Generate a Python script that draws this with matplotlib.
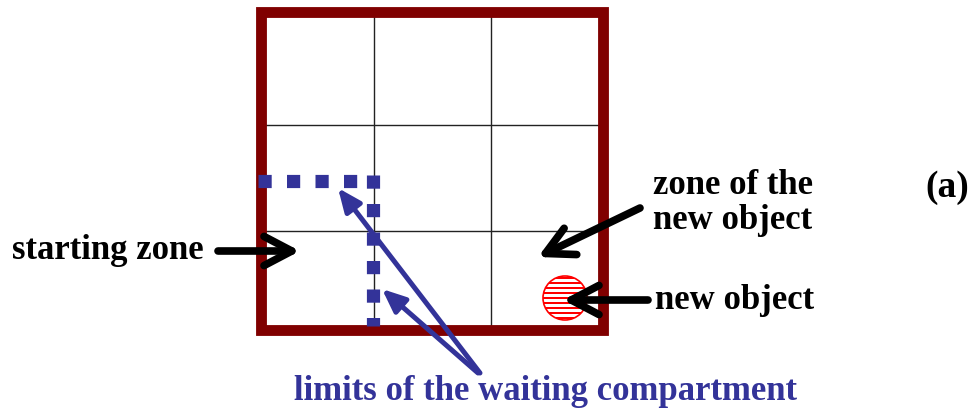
import matplotlib.pyplot as plt
from matplotlib.patches import Ellipse, Rectangle

# diagram data (pixel-like units, y grows downward)
box = [261, 12, 603, 330]          # left, top, right, bottom
grid_x = [374, 491]
grid_y = [125, 231]
wait_h = [258, 358, 181]           # x0, x1, y
wait_v = [372.5, 175, 326]         # x, y0, y1

labels = ["starting zone", "zone of the\nnew object", "new object", "(a)",
          "limits of the waiting compartment"]
label_xy = [(108, 250), (733, 203), (735, 300), (947, 187), (545, 391)]

black_arrows = [((218, 251), (300, 251)), ((640, 208), (538, 257)), ((648, 300), (563, 300))]
blue_arrows = [((480, 373), (338, 188)), ((478, 373), (382, 289))]

obj_center = (565, 298)
obj_size = (44, 44)

dark_red = "#800000"
blue = "#333399"

fig = plt.figure(figsize=(9.8, 4.19), dpi=100)
ax = fig.add_axes([0, 0, 1, 1])
ax.set_xlim(0, 980)
ax.set_ylim(419, 0)
ax.axis("off")

for x in grid_x:
    ax.plot([x, x], [box[1], box[3]], color="#222222", lw=1)
for y in grid_y:
    ax.plot([box[0], box[2]], [y, y], color="#222222", lw=1)

ax.add_patch(Rectangle((box[0], box[1]), box[2] - box[0], box[3] - box[1],
                       fill=False, edgecolor=dark_red, lw=7.8, joinstyle="miter", zorder=2))

# waiting compartment limits (drawn over the frame)
dots = (0, (1.0, 1.16))
ax.plot([wait_h[0], wait_h[1]], [wait_h[2], wait_h[2]], color=blue, lw=9.5,
        ls=dots, dash_capstyle="butt", zorder=3)
ax.plot([wait_v[0], wait_v[0]], [wait_v[1], wait_v[2]], color=blue, lw=9.5,
        ls=dots, dash_capstyle="butt", zorder=3)

# new object: striped circle
ell = Ellipse(obj_center, *obj_size, facecolor="white", edgecolor="red", lw=1.2, zorder=3)
ax.add_patch(ell)
for i in range(-5, 6):
    stripe = Rectangle((obj_center[0] - obj_size[0] / 2, obj_center[1] + i * 5.0 - 1.25),
                       obj_size[0], 2.5, color="red", lw=0, zorder=3)
    stripe.set_clip_path(ell)
    ax.add_patch(stripe)

for (x0, y0), (x1, y1) in black_arrows:
    ax.annotate("", xy=(x1, y1), xytext=(x0, y0), zorder=5,
                arrowprops=dict(arrowstyle="->,head_length=2.0,head_width=1.05",
                                color="black", lw=5.5, capstyle="round",
                                joinstyle="round", shrinkA=0, shrinkB=0))

for (x0, y0), (x1, y1) in blue_arrows:
    ax.annotate("", xy=(x1, y1), xytext=(x0, y0), zorder=5,
                arrowprops=dict(arrowstyle="-|>,head_length=1.4,head_width=0.6",
                                color=blue, lw=3.6, shrinkA=0, shrinkB=0))

font = dict(family="Liberation Serif", fontweight="bold")
for i, (txt, (x, y)) in enumerate(zip(labels, label_xy)):
    col = blue if i == 4 else "black"
    size = 27 if i == 3 else 25
    ax.text(x, y, txt, ha="center", va="center", color=col, fontsize=size,
            linespacing=1.1, **font)

fig.savefig("out.png", dpi=100)
